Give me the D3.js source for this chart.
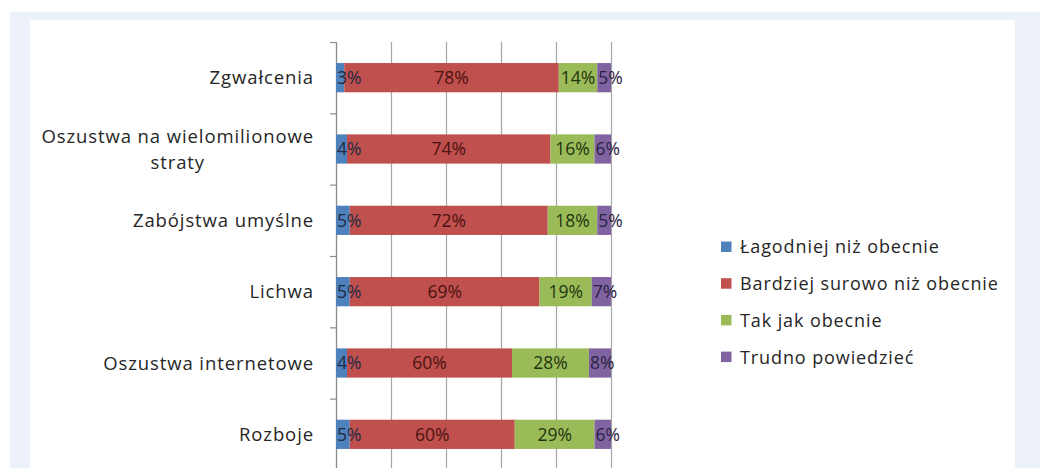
<!DOCTYPE html>
<html>
<head>
<meta charset="utf-8">
<script src="https://cdn.jsdelivr.net/npm/d3@7"></script>
<style>
  html, body { margin: 0; padding: 0; background: #ffffff; }
  svg { display: block; }
  text { font-family: "Open Sans", "DejaVu Sans", sans-serif; }
</style>
</head>
<body>
<svg id="chart" width="1043" height="468"></svg>
<script>
// Survey: how should sentences for each crime change?
const categories = [
  ["Zgwałcenia"],
  ["Oszustwa na wielomilionowe", "straty"],
  ["Zabójstwa umyślne"],
  ["Lichwa"],
  ["Oszustwa internetowe"],
  ["Rozboje"]
];
const seriesNames = [
  "Łagodniej niż obecnie",
  "Bardziej surowo niż obecnie",
  "Tak jak obecnie",
  "Trudno powiedzieć"
];
const lagodniej = [3, 4, 5, 5, 4, 5];
const surowiej  = [78, 74, 72, 69, 60, 60];
const takJak    = [14, 16, 18, 19, 28, 29];
const trudno    = [5, 6, 5, 7, 8, 6];
const xTicks    = [0, 20, 40, 60, 80, 100];

const colors      = ["#4f81bd", "#c0504d", "#9bbb59", "#8064a2"];
const labelColors = ["#1e2a44", "#4a1212", "#233410", "#2a2140"];

const keys = categories.map(c => c.join(" "));
const rows = keys.map((k, i) => ({
  key: k,
  s0: lagodniej[i], s1: surowiej[i], s2: takJak[i], s3: trudno[i]
}));
const stack = d3.stack().keys(["s0", "s1", "s2", "s3"])(rows);

const svg = d3.select("#chart");

// page frame
svg.append("rect").attr("x", 10).attr("y", 12).attr("width", 1030).attr("height", 456)
  .attr("fill", "#edf1f9");
svg.append("rect").attr("x", 30).attr("y", 20).attr("width", 985).attr("height", 448)
  .attr("fill", "#ffffff");

const x = d3.scaleLinear().domain([0, 100]).range([336, 611]);
const y = d3.scaleBand().domain(keys).range([42, 470]).paddingInner(0.59).paddingOuter(0.295);
const yEdge = d3.scaleLinear().domain([0, keys.length]).range([42, 470]);

// vertical gridlines
svg.append("g")
  .attr("transform", `translate(0,${yEdge(0)})`)
  .call(d3.axisTop(x).tickValues(xTicks).tickSize(-(yEdge(keys.length) - yEdge(0))).tickFormat(""))
  .call(g => g.select(".domain").remove())
  .call(g => g.selectAll(".tick line").attr("stroke", "#a6a6a6").attr("stroke-width", 1.2));

// category axis with ticks between bands
svg.append("g")
  .attr("transform", `translate(${x(0)},0)`)
  .call(d3.axisLeft(yEdge).tickValues(d3.range(keys.length + 1)).tickSize(6).tickSizeOuter(0).tickFormat(""))
  .call(g => g.selectAll("line, path").attr("stroke", "#8c8c8c").attr("stroke-width", 1.2));

// stacked bars
const layers = svg.append("g").selectAll("g").data(stack).join("g")
  .attr("fill", (d, i) => colors[i]);
layers.selectAll("rect").data(d => d).join("rect")
  .attr("x", d => x(d[0]))
  .attr("width", d => x(d[1]) - x(d[0]))
  .attr("y", d => y(d.data.key))
  .attr("height", y.bandwidth());

// value labels: narrow end segments start at their left edge, the rest are centered
const last = stack.length - 1;
stack.forEach((layer, si) => {
  const edge = si === 0 || si === last;
  svg.append("g").selectAll("text").data(layer).join("text")
    .attr("x", d => edge ? x(d[0]) + 1 : (x(d[0]) + x(d[1])) / 2)
    .attr("y", d => y(d.data.key) + y.bandwidth() / 2)
    .attr("dy", "0.36em")
    .attr("text-anchor", edge ? "start" : "middle")
    .attr("font-size", 17.5)
    .attr("fill", labelColors[si])
    .text(d => (d[1] - d[0]) + "%");
});

// category labels
const catG = svg.append("g");
categories.forEach((lines, i) => {
  const cy = y(keys[i]) + y.bandwidth() / 2;
  const lh = 26;
  const t = catG.append("text")
    .attr("font-size", 18.5)
    .attr("letter-spacing", 0.9)
    .attr("fill", "#262626");
  lines.forEach((ln, j) => {
    t.append("tspan")
      .attr("y", cy + (j - (lines.length - 1) / 2) * lh)
      .attr("dy", "0.36em")
      .text(ln);
  });
  // right-align the block, center lines within it
  const spans = t.selectAll("tspan").nodes();
  const maxW = d3.max(spans, s => s.getComputedTextLength());
  const right = x(0) - 22;
  spans.forEach(s => {
    d3.select(s).attr("x", right - maxW / 2).attr("text-anchor", "middle");
  });
});

// legend
const legend = svg.append("g").attr("transform", "translate(721,247)");
seriesNames.forEach((name, i) => {
  const g = legend.append("g").attr("transform", `translate(0,${i * 36.7})`);
  g.append("rect").attr("x", 0).attr("y", -5.5).attr("width", 10.5).attr("height", 10.5)
    .attr("fill", colors[i]);
  g.append("text").attr("x", 19).attr("dy", "0.36em")
    .attr("font-size", 18).attr("letter-spacing", 0.9).attr("fill", "#262626")
    .text(name);
});
</script>
</body>
</html>
